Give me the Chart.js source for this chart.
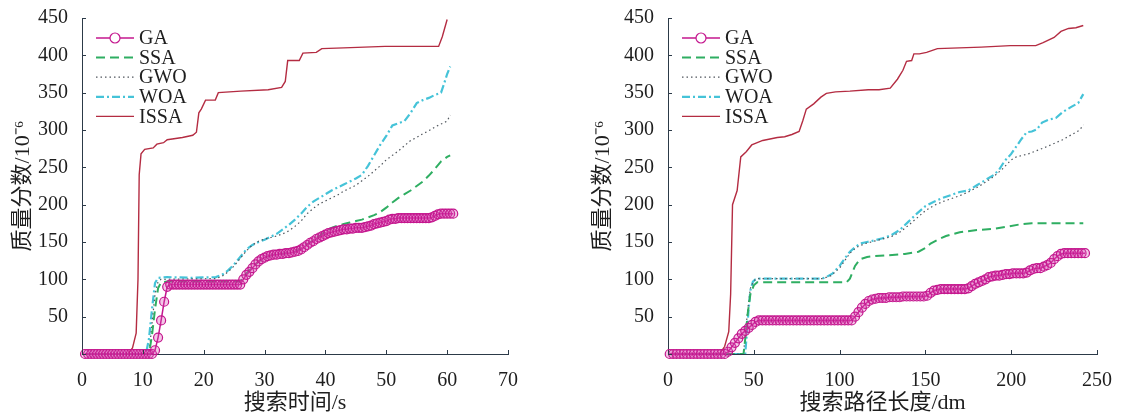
<!DOCTYPE html>
<html>
<head>
<meta charset="utf-8">
<script src="https://cdn.jsdelivr.net/npm/chart.js@4.4.1/dist/chart.umd.min.js"></script>
<style>
  body { margin: 0; background: #fff; width: 1129px; height: 416px; overflow: hidden; display: flex; }
  canvas { display: block; }
</style>
</head>
<body>
<canvas id="timeChart" width="564" height="416"></canvas>
<canvas id="lengthChart" width="565" height="416"></canvas>
<script>
// ---- series names ----
const seriesNames = ['GA', 'SSA', 'GWO', 'WOA', 'ISSA'];

// ---- left chart: search time (s) ----
const timeTicks = [0, 10, 20, 30, 40, 50, 60, 70];
const gaTimeX = [
  0.5,1,1.5,2,2.5,3,3.5,4,4.5,5,
  5.5,6,6.5,7,7.5,8,8.5,9,9.5,10,
  10.5,11,11.5,12,12.5,13,13.5,14,14.5,15,
  15.5,16,16.5,17,17.5,18,18.5,19,19.5,20,
  20.5,21,21.5,22,22.5,23,23.5,24,24.5,25,
  25.5,26,26.5,27,27.5,28,28.5,29,29.5,30,
  30.5,31,31.5,32,32.5,33,33.5,34,34.5,35,
  35.5,36,36.5,37,37.5,38,38.5,39,39.5,40,
  40.5,41,41.5,42,42.5,43,43.5,44,44.5,45,
  45.5,46,46.5,47,47.5,48,48.5,49,49.5,50,
  50.5,51,51.5,52,52.5,53,53.5,54,54.5,55,
  55.5,56,56.5,57,57.5,58,58.5,59,59.5,60,
  60.5,61
];
const gaTimeY = [
  0,0,0,0,0,0,0,0,0,0,
  0,0,0,0,0,0,0,0,0,0,
  0,0,0,5,22,45,70,90,93,93,
  93,93,93,93,93,93,93,93,93,93,
  93,93,93,93,93,93,93,93,93,93,
  93,93,100,106,110,115,120,124,127,129,
  131,132,133,133,134,134,135,135,136,137,
  138,140,143,146,149,151,154,156,158,160,
  162,163,164,165,166,167,167,168,168,169,
  169,169,170,171,172,174,175,176,177,178,
  180,181,181,182,182,182,182,182,182,182,
  182,182,182,182,183,185,187,188,188,188,
  188,188
];
const ssaTimeX = [0.5,11,11.5,12,12.5,13,14,26,27,28,29,30,31,32,34,35,36,37,38,39,40,41,42,43,44,45,46,47,48,49,50,51,52,53,54,55,56,57,58,59,60,60.5];
const ssaTimeY = [0,0,25,60,88,96,97,97,108,116,124,129,132,134,135,137,141,147,152,158,164,169,172,174,176,178,180,183,186,190,196,203,209,214,219,225,231,239,248,258,264,266];
const gwoTimeX = [0.5,11,11.5,12,12.5,13,22,23,24,25,26,27,28,29,30,31,32,33,34,35,36,37,38,39,40,41,42,43,44,45,46,47,48,49,50,51,52,53,54,55,56,57,58,59,60,60.5];
const gwoTimeY = [0,0,40,80,97,100,101,104,110,118,128,138,146,151,154,156,158,161,165,171,178,188,195,201,205,209,213,218,222,226,232,238,245,252,260,266,272,279,286,290,295,299,304,308,312,320];
const woaTimeX = [0.5,10.5,11,11.5,12,12.5,14,18,22,23,24,25,26,27,28,29,30,31,32,33,34,35,36,37,38,39,40,41,42,43,44,45,46,47,48,49,50,51,52,53,54,55,56,57,58,59,59.5,60,60.5];
const woaTimeY = [0,0,20,60,95,102,103,102,103,106,112,120,130,140,146,150,153,157,161,167,173,180,188,197,204,209,214,219,223,227,231,235,240,252,266,280,292,306,309,312,323,336,340,343,347,350,362,375,385];
const issaTimeX = [0.5,7.5,8.3,8.9,9.2,9.4,9.7,10.3,11.7,12.3,13.4,14,16.5,18.2,18.8,19.2,19.6,20.3,21.9,22.4,26.1,30.6,32.8,33.4,33.8,35.7,36.3,38.5,39.4,43,49.8,58.6,59.2,60];
const issaTimeY = [0,0,8,28,100,240,268,274,276,281,283,287,290,293,297,323,328,340,340,350,352,354,357,365,393,393,403,404,409,410,412,412,425,448];

// ---- right chart: search path length (dm) ----
const lengthTicks = [0, 50, 100, 150, 200, 250];
const gaLenX = [
  1,3,5,7,9,11,13,15,17,19,
  21,23,25,27,29,31,33,35,37,39,
  41,43,45,47,49,51,53,55,57,59,
  61,63,65,67,69,71,73,75,77,79,
  81,83,85,87,89,91,93,95,97,99,
  101,103,105,107,109,111,113,115,117,119,
  121,123,125,127,129,131,133,135,137,139,
  141,143,145,147,149,151,153,155,157,159,
  161,163,165,167,169,171,173,175,177,179,
  181,183,185,187,189,191,193,195,197,199,
  201,203,205,207,209,211,213,215,217,219,
  221,223,225,227,229,231,233,235,237,239,
  241,243
];
const gaLenY = [
  0,0,0,0,0,0,0,0,0,0,
  0,0,0,0,0,0,0,3,9,15,
  21,27,31,35,39,43,45,45,45,45,
  45,45,45,45,45,45,45,45,45,45,
  45,45,45,45,45,45,45,45,45,45,
  45,45,45,45,50,56,62,67,71,73,
  74,75,75,75,76,76,76,76,77,77,
  77,77,77,77,77,78,82,85,86,87,
  87,87,87,87,87,87,87,88,91,94,
  96,98,100,103,104,105,105,106,107,107,
  108,108,108,108,109,112,114,115,115,117,
  119,122,127,131,134,135,135,135,135,135,
  135,135
];
const ssaLenX = [1,44,45,46.5,48,50,52,54,104,106,109,112,116,120,127,138,146,150,153,158,162,170,180,191,199,206,212,242];
const ssaLenY = [0,0,20,55,80,92,96,96,96,101,118,127,130,131,132,134,137,142,148,154,158,163,166,168,171,174,175,175];
const gwoLenX = [1,44,45,46.5,48,50,52,90,95,100,103,106,110,115,120,125,130,135,140,145,150,155,160,165,170,175,180,185,190,195,200,203,210,220,230,240,242];
const gwoLenY = [0,0,25,60,88,98,101,101,105,115,125,135,143,148,151,154,157,163,172,182,192,199,204,208,212,217,223,230,238,248,260,264,268,277,287,300,307];
const woaLenX = [1,45,46,47,48,49.5,51,53,90,93,96,100,103,106,109,112,116,120,125,130,135,140,145,150,155,160,165,170,175,180,185,190,193,196,200,203,206,209,212,215,218,222,226,230,235,239,242];
const woaLenY = [0,0,30,60,85,97,100,101,101,104,108,118,128,137,143,148,150,152,155,159,166,177,188,198,204,209,213,217,219,226,233,240,247,258,268,278,288,297,298,301,310,314,316,324,331,336,348];
const issaLenX = [1,30,33,35.4,36.5,37.6,40.3,42.4,45.6,48.8,52,55.2,63.7,68,72.2,76.4,78.5,80.6,84.9,89.1,92.3,97.6,106,116.7,123,129.5,133.7,136.9,139,142,143.3,146.5,150.7,157,169.8,182.5,199.5,214.3,218.6,225,229,233.4,237.7,242];
const issaLenY = [0,0,10,30,80,200,219,264,271,280,283,286,290,291,294,298,312,328,335,344,349,351,352,354,354,356,368,380,392,393,402,402,404,409,410,411,413,413,417,424,432,436,437,440];

// y axis (shared)
const yTicks = [0, 50, 100, 150, 200, 250, 300, 350, 400, 450];

const axisColor = '#2c3a48';
const textColor = '#1e1e1e';
const serif = '"Liberation Serif", "Noto Sans CJK SC", serif';

function toPoints(xs, ys) {
  return xs.map((x, i) => ({ x: x, y: ys[i] }));
}

function makeDatasets(ga, ssa, gwo, woa, issa) {
  return [
    { label: seriesNames[0], data: ga, borderColor: '#c4178e', borderWidth: 1.5,
      pointRadius: 4.5, pointBorderWidth: 1.2, pointBorderColor: '#c4178e',
      pointBackgroundColor: 'rgba(215,70,175,0.3)', clip: false },
    { label: seriesNames[1], data: ssa, borderColor: '#2fae62', borderWidth: 2,
      borderDash: [9, 5], pointRadius: 0 },
    { label: seriesNames[2], data: gwo, borderColor: '#50565d', borderWidth: 1.2,
      borderDash: [1.5, 3], pointRadius: 0 },
    { label: seriesNames[3], data: woa, borderColor: '#45c3d8', borderWidth: 2.2,
      borderDash: [8, 3, 2, 3], pointRadius: 0 },
    { label: seriesNames[4], data: issa, borderColor: '#b42c42', borderWidth: 1.4,
      pointRadius: 0 }
  ];
}

// legend inside the plot, top-left, one row per series
const insideLegend = {
  id: 'insideLegend',
  afterDraw(chart) {
    const { ctx, chartArea } = chart;
    ctx.save();
    chart.data.datasets.forEach((ds, i) => {
      const y = chartArea.top + 20 + i * 19.6;
      const x0 = chartArea.left + 14;
      const x1 = chartArea.left + 52;
      ctx.strokeStyle = ds.borderColor;
      ctx.lineWidth = ds.borderWidth;
      ctx.setLineDash(ds.borderDash || []);
      ctx.beginPath();
      ctx.moveTo(x0, y);
      ctx.lineTo(x1, y);
      ctx.stroke();
      ctx.setLineDash([]);
      if (ds.pointRadius > 0) {
        ctx.lineWidth = 1.2;
        ctx.beginPath();
        ctx.arc((x0 + x1) / 2, y, 5, 0, Math.PI * 2);
        ctx.fillStyle = '#fff';
        ctx.fill();
        ctx.stroke();
      }
      ctx.fillStyle = textColor;
      ctx.font = '20px ' + serif;
      ctx.textBaseline = 'middle';
      ctx.fillText(ds.label, x1 + 5, y + 1);
    });
    ctx.restore();
  }
};

// short tick marks pointing into the plot
const innerTicks = {
  id: 'innerTicks',
  afterDraw(chart) {
    const { ctx, chartArea, scales } = chart;
    ctx.save();
    ctx.strokeStyle = axisColor;
    ctx.lineWidth = 1;
    scales.x.ticks.forEach(t => {
      const px = Math.round(scales.x.getPixelForValue(t.value)) + 0.5;
      ctx.beginPath();
      ctx.moveTo(px, chartArea.bottom);
      ctx.lineTo(px, chartArea.bottom - 4);
      ctx.stroke();
    });
    scales.y.ticks.forEach(t => {
      const py = Math.round(scales.y.getPixelForValue(t.value)) + 0.5;
      ctx.beginPath();
      ctx.moveTo(chartArea.left, py);
      ctx.lineTo(chartArea.left + 4, py);
      ctx.stroke();
    });
    ctx.restore();
  }
};

function buildChart(id, opts) {
  return new Chart(document.getElementById(id), {
    type: 'line',
    data: { datasets: opts.datasets },
    options: {
      responsive: false,
      animation: false,
      layout: { padding: { top: 17, right: opts.padRight, left: 0, bottom: 0 } },
      plugins: { legend: { display: false }, tooltip: { enabled: false } },
      elements: { line: { tension: 0 } },
      scales: {
        x: {
          type: 'linear',
          min: opts.xTicks[0],
          max: opts.xTicks[opts.xTicks.length - 1],
          afterBuildTicks: s => { s.ticks = opts.xTicks.map(v => ({ value: v })); },
          afterFit: s => { s.height = 62; },
          grid: { display: false },
          border: { display: true, color: axisColor, width: 1 },
          ticks: { color: textColor, padding: 7, maxRotation: 0, font: { family: serif, size: 20 } },
          title: { display: true, text: opts.xTitle, color: textColor, padding: { top: 0, bottom: 0 },
                   font: { family: serif, size: 22, lineHeight: 1.2 } }
        },
        y: {
          min: 0,
          max: 450,
          afterBuildTicks: s => { s.ticks = yTicks.map(v => ({ value: v })); },
          afterFit: s => { s.width = opts.yWidth; },
          grid: { display: false },
          border: { display: true, color: axisColor, width: 1 },
          ticks: { color: textColor, padding: 6, font: { family: serif, size: 20 },
                   callback: v => (v === 0 ? '' : v) },
          title: { display: true, text: '质量分数/10⁻⁶', color: textColor, padding: { top: opts.yTitlePad, bottom: 0 },
                   font: { family: serif, size: 22, lineHeight: 1.2 } }
        }
      }
    },
    plugins: [innerTicks, insideLegend]
  });
}

buildChart('timeChart', {
  datasets: makeDatasets(
    toPoints(gaTimeX, gaTimeY), toPoints(ssaTimeX, ssaTimeY), toPoints(gwoTimeX, gwoTimeY),
    toPoints(woaTimeX, woaTimeY), toPoints(issaTimeX, issaTimeY)),
  xTicks: timeTicks,
  xTitle: '搜索时间/s',
  yWidth: 82,
  yTitlePad: 10,
  padRight: 56
});

buildChart('lengthChart', {
  datasets: makeDatasets(
    toPoints(gaLenX, gaLenY), toPoints(ssaLenX, ssaLenY), toPoints(gwoLenX, gwoLenY),
    toPoints(woaLenX, woaLenY), toPoints(issaLenX, issaLenY)),
  xTicks: lengthTicks,
  xTitle: '搜索路径长度/dm',
  yWidth: 104,
  yTitlePad: 26,
  padRight: 32
});
</script>
</body>
</html>
